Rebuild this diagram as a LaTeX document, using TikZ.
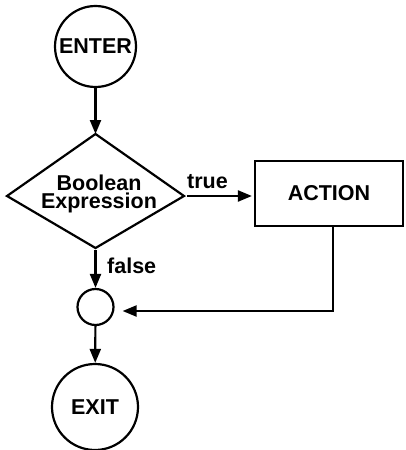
\documentclass[tikz,border=0pt]{standalone}
\usepackage{fontspec}
\setmainfont{Liberation Sans}
\usetikzlibrary{arrows.meta}
\begin{document}
\begin{tikzpicture}[x=1pt,y=-1pt,
  every node/.style={font=\bfseries\fontsize{21.5}{17.5}\selectfont},
  ln/.style={line width=2.2pt},
  arr/.style={ln,-{Triangle[length=14pt,width=11pt]}},
  circ/.style={circle,draw,ln,inner sep=0pt},
  lbl/.style={inner sep=0pt,anchor=base west},
  dlbl/.style={inner sep=0pt,anchor=base},
]
\useasboundingbox (0,0) rectangle (405,450);
\node[circ,minimum size=81pt] (enter) at (95.5,46.5) {ENTER};
\coordinate (dt) at (95.5,134);
\coordinate (dr) at (184,196);
\coordinate (db) at (95.5,248);
\coordinate (dl) at (7,196);
\draw[ln,line join=miter] (dt) -- (dr) -- (db) -- (dl) -- cycle;
\node[dlbl] (dtext1) at (99,190) {Boolean};
\node[dlbl] (dtext2) at (99,208.5) {Expression};
\node[draw,ln,minimum width=148pt,minimum height=65pt,inner sep=0pt] (act) at (329,193.5) {ACTION};
\node[circ,minimum size=36pt] (m) at (95.5,307) {};
\node[circ,minimum size=86pt] (exit) at (95,407) {EXIT};
\draw[arr] (enter) -- (dt);
\draw[arr] ([xshift=3pt]dr) -- ([xshift=-2pt]act.west |- dr);
\node[lbl] (tl) at (187,188) {true};
\draw[arr] ([yshift=-2pt]db) -- (m);
\node[lbl] (fl) at (107,273) {false};
\draw[arr] ([xshift=4pt]act.south) |- ([xshift=8pt,yshift=-4pt]m.east);
\draw[arr] (m) -- (exit);
\end{tikzpicture}
\end{document}
